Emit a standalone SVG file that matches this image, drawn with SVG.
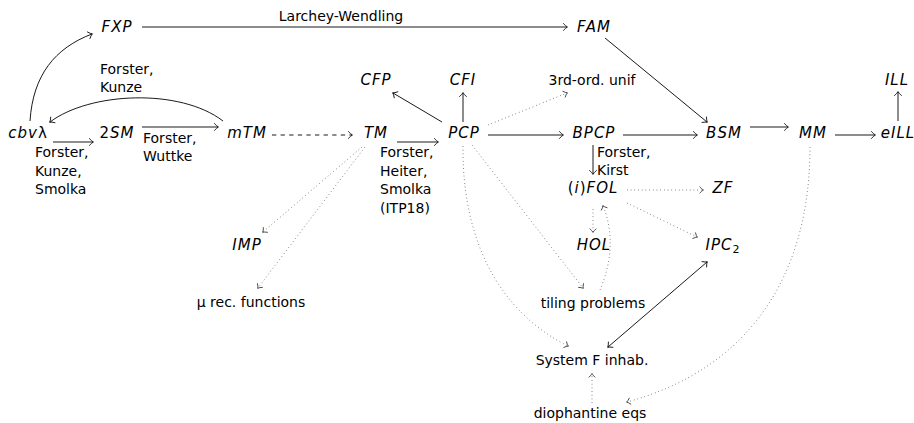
<svg xmlns="http://www.w3.org/2000/svg" width="914" height="423" viewBox="0 0 914 423">
<style>
text{font-family:"DejaVu Sans","Liberation Sans",sans-serif;fill:#000}
.n{font-size:15px;font-style:italic;letter-spacing:1px;text-anchor:middle}
.u{font-style:normal}
.t{font-size:14px;text-anchor:middle}
.l{font-size:14px}
.c{fill:none;stroke:#000;stroke-width:0.9}
.s{marker-end:url(#ah)}
.d{fill:none;stroke:#444;stroke-width:0.9;stroke-dasharray:0.7 3;marker-end:url(#ad)}
.dash{fill:none;stroke:#000;stroke-width:0.9;stroke-dasharray:4.3 4.3;marker-end:url(#ah)}
</style>
<defs>
<marker id="ah" viewBox="-6 -6 10 12" markerWidth="10" markerHeight="12" refX="0" refY="0" orient="auto-start-reverse" markerUnits="userSpaceOnUse">
<path d="M-3.8,-3.8 Q-1.3,-0.7 0.5,0 Q-1.3,0.7 -3.8,3.8" fill="none" stroke="#000" stroke-width="0.8"/>
</marker>
<marker id="ad" viewBox="-6 -6 10 12" markerWidth="10" markerHeight="12" refX="0" refY="0" orient="auto" markerUnits="userSpaceOnUse">
<path d="M-3.4,-3.4 Q-1.2,-0.6 0.5,0 Q-1.2,0.6 -3.4,3.4" fill="none" stroke="#333" stroke-width="0.8"/>
</marker>
</defs>

<g id="connectors">
<path class="c s" d="M30,121 C33,75 55,48 92,34"/>
<path class="c s" d="M142,27 L567,27"/>
<path class="c s" d="M223,121 C180,88 90,92 50,122"/>
<path class="c s" d="M53,142 L93,142"/>
<path class="c s" d="M142,127 L218,127"/>
<path class="dash" d="M272,135 L352,135"/>
<path class="c s" d="M397,142 L438,142"/>
<path class="c s" d="M442,122 L393,93"/>
<path class="c s" d="M463,122 L463,93"/>
<path class="d" d="M488,125 L567,93"/>
<path class="c s" d="M488,135 L563,135"/>
<path class="c s" d="M605,38 L707,122"/>
<path class="c s" d="M623,135 L697,135"/>
<path class="c s" d="M750,127 L788,127"/>
<path class="c s" d="M835,135 L875,135"/>
<path class="c s" d="M898,121 L898,92"/>
<path class="c s" d="M593,145 L593,174"/>
<path class="d" d="M627,190 L703,190"/>
<path class="d" d="M593,209 L593,232"/>
<path class="d" d="M627,203 L697,237"/>
<path class="d" d="M600,290 C612,262 614,232 603,206"/>
<path class="d" d="M472,145 L583,288"/>
<path class="d" d="M463,146 C462,260 515,320 568,346"/>
<path class="d" d="M362,147 L263,232"/>
<path class="d" d="M365,147 L258,288"/>
<path class="c" style="marker-start:url(#ah);marker-end:url(#ah)" d="M707,262 L608,347"/>
<path class="d" d="M592,403 L592,374"/>
<path class="d" d="M810,147 C810,280 745,370 627,402"/>
</g>

<g id="label-lw"><text class="t" x="341" y="21">Larchey-Wendling</text></g>
<g id="label-fk"><text class="l" x="100" y="74">Forster,</text><text class="l" x="100" y="92">Kunze</text></g>
<g id="label-fks"><text class="l" x="35" y="157">Forster,</text><text class="l" x="35" y="175.5">Kunze,</text><text class="l" x="35" y="194">Smolka</text></g>
<g id="label-fw"><text class="l" x="143" y="143">Forster,</text><text class="l" x="143" y="161">Wuttke</text></g>
<g id="label-fhs"><text class="l" x="380" y="157">Forster,</text><text class="l" x="380" y="175.5">Heiter,</text><text class="l" x="380" y="194">Smolka</text><text class="l" x="380" y="212.5">(ITP18)</text></g>
<g id="label-fki"><text class="l" x="597" y="157">Forster,</text><text class="l" x="597" y="175">Kirst</text></g>

<g id="n-FXP"><text class="n" x="117" y="32">FXP</text></g>
<g id="n-FAM"><text class="n" x="594" y="32">FAM</text></g>
<g id="n-CFP"><text class="n" x="376" y="85">CFP</text></g>
<g id="n-CFI"><text class="n" x="463" y="85">CFI</text></g>
<g id="n-3rd"><text class="t" x="592" y="85">3rd-ord. unif</text></g>
<g id="n-ILL"><text class="n" x="897" y="85">ILL</text></g>
<g id="n-cbv"><text class="n" x="28" y="138">cbv<tspan class="u">λ</tspan></text></g>
<g id="n-2SM"><text class="n" x="117" y="138"><tspan class="u">2</tspan>SM</text></g>
<g id="n-mTM"><text class="n" x="247" y="138">mTM</text></g>
<g id="n-TM"><text class="n" x="376" y="138">TM</text></g>
<g id="n-PCP"><text class="n" x="464" y="138">PCP</text></g>
<g id="n-BPCP"><text class="n" x="594" y="138">BPCP</text></g>
<g id="n-BSM"><text class="n" x="724" y="138">BSM</text></g>
<g id="n-MM"><text class="n" x="813" y="138">MM</text></g>
<g id="n-eILL"><text class="n" x="898" y="138">eILL</text></g>
<g id="n-FOL"><text class="n" x="593" y="193"><tspan class="u">(</tspan>i<tspan class="u">)</tspan>FOL</text></g>
<g id="n-ZF"><text class="n" x="723" y="193">ZF</text></g>
<g id="n-HOL"><text class="n" x="594" y="250">HOL</text></g>
<g id="n-IPC2"><text class="n" x="723" y="250">IPC<tspan class="u" font-size="11" dy="3">2</tspan></text></g>
<g id="n-IMP"><text class="n" x="247" y="250">IMP</text></g>
<g id="n-mu"><text class="t" x="251" y="307">μ rec. functions</text></g>
<g id="n-tiling"><text class="t" x="593" y="308">tiling problems</text></g>
<g id="n-sysf"><text class="t" x="592" y="365">System F inhab.</text></g>
<g id="n-dioph"><text class="t" x="590" y="418">diophantine eqs</text></g>
</svg>
